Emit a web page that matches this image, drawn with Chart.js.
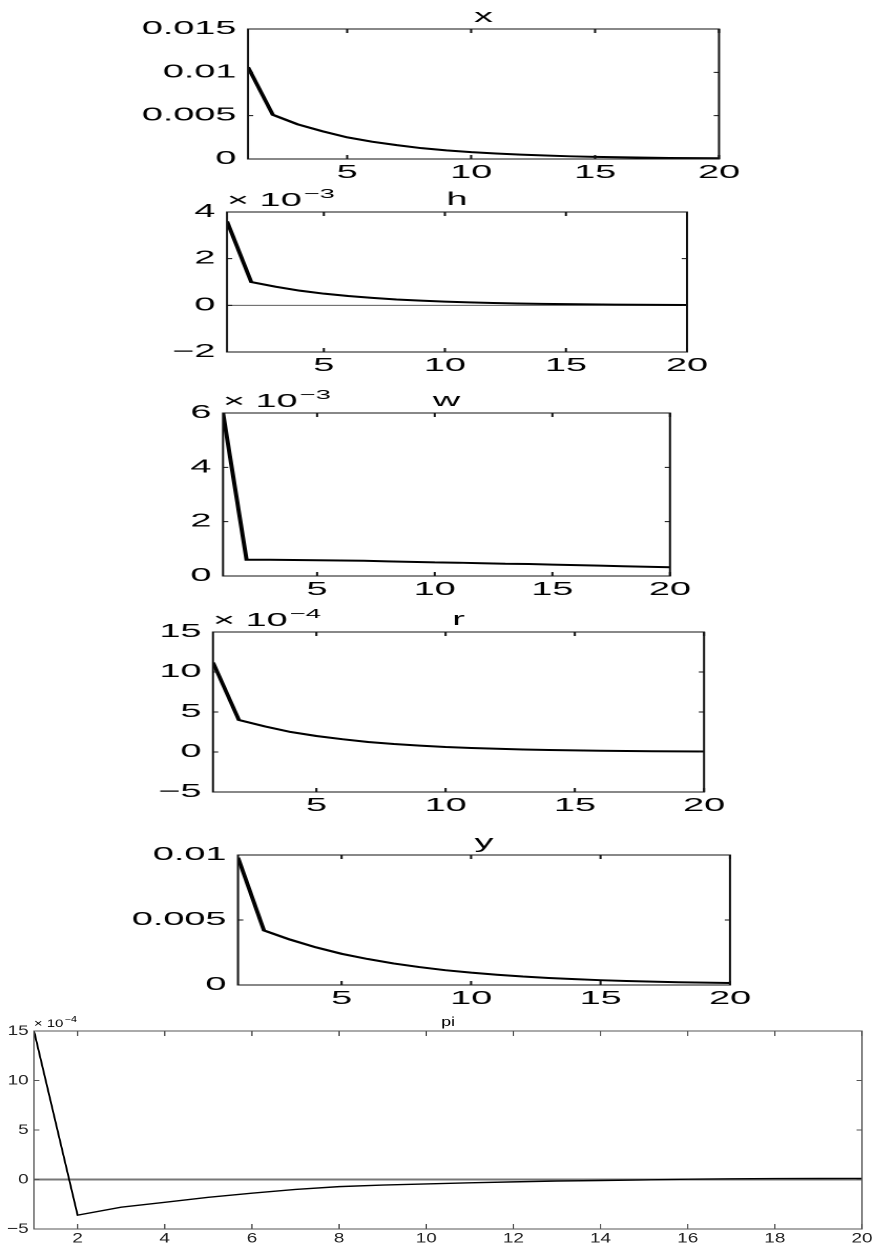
<!DOCTYPE html>
<html>
<head>
<meta charset="utf-8">
<script src="https://cdn.jsdelivr.net/npm/chart.js@4.4.1/dist/chart.umd.min.js"></script>
<style>
  html, body { margin: 0; padding: 0; background: #fff; }
  #page { position: relative; width: 874px; height: 1248px; overflow: hidden; background: #fff; }
  .panel { position: absolute; left: 0; transform-origin: 0 0; }
  .panel canvas { display: block; }
</style>
</head>
<body>
<div id="page"></div>
<script>
// Impulse responses over 20 periods
const periods = [1, 2, 3, 4, 5, 6, 7, 8, 9, 10, 11, 12, 13, 14, 15, 16, 17, 18, 19, 20];

const xSeries = [0.0106, 0.0051, 0.0040, 0.0032, 0.0025, 0.0020, 0.0016, 0.00125, 0.0010, 0.00079,
                 0.00063, 0.0005, 0.0004, 0.00031, 0.00025, 0.0002, 0.00016, 0.00012, 0.0001, 0.00008];
// h, w in units of 1e-3
const hSeries = [3.6, 1.0, 0.8, 0.63, 0.5, 0.4, 0.32, 0.25, 0.2, 0.16,
                 0.125, 0.1, 0.08, 0.063, 0.05, 0.04, 0.032, 0.025, 0.02, 0.016];
const wSeries = [6.0, 0.6, 0.6, 0.59, 0.58, 0.57, 0.56, 0.54, 0.52, 0.5,
                 0.49, 0.47, 0.45, 0.44, 0.42, 0.4, 0.38, 0.36, 0.34, 0.32];
// r, pi in units of 1e-4
const rSeries = [11.2, 4.0, 3.2, 2.5, 2.0, 1.6, 1.25, 1.0, 0.8, 0.63,
                 0.5, 0.4, 0.32, 0.25, 0.2, 0.16, 0.12, 0.1, 0.08, 0.06];
const ySeries = [0.0098, 0.0042, 0.0035, 0.0029, 0.0024, 0.0020, 0.00166, 0.00138, 0.00114, 0.00095,
                 0.00079, 0.00065, 0.00054, 0.00045, 0.00037, 0.00031, 0.00026, 0.00021, 0.00018, 0.00015];
const piSeries = [15, -3.6, -2.8, -2.3, -1.8, -1.38, -1.0, -0.72, -0.56, -0.45,
                  -0.33, -0.24, -0.16, -0.1, -0.04, 0.03, 0.07, 0.09, 0.1, 0.11];

// Tick values and labels
const smallXTicks = [5, 10, 15, 20];
const piXTicks = [2, 4, 6, 8, 10, 12, 14, 16, 18, 20];
const xYTicks = [0, 0.005, 0.01, 0.015];
const xYLabels = ['0', '0.005', '0.01', '0.015'];
const hYTicks = [-2, 0, 2, 4];
const hYLabels = ['\u22122', '0', '2', '4'];
const wYTicks = [0, 2, 4, 6];
const wYLabels = ['0', '2', '4', '6'];
const rYTicks = [-5, 0, 5, 10, 15];
const rYLabels = ['\u22125', '0', '5', '10', '15'];
const yYTicks = [0, 0.005, 0.01];
const yYLabels = ['0', '0.005', '0.01'];
const piYTicks = [-5, 0, 5, 10, 15];
const piYLabels = ['\u22125', '0', '5', '10', '15'];

const titles = ['x', 'h', 'w', 'r', 'y', 'pi'];
const exponents = [null, '\u22123', '\u22123', '\u22124', null, '\u22124'];

const FONT = '"Liberation Sans", Arial, Helvetica, sans-serif';
const page = document.getElementById('page');

// Box frame, inward ticks, title and axis multiplier
const matlabAxes = {
  id: 'matlabAxes',
  afterDraw(chart, args, o) {
    const { ctx, chartArea: a, scales: { x, y } } = chart;
    ctx.save();
    ctx.strokeStyle = o.frameColor;
    ctx.lineWidth = o.frameWidth;
    ctx.beginPath();
    for (const t of x.ticks) {
      const px = x.getPixelForValue(t.value);
      ctx.moveTo(px, a.bottom); ctx.lineTo(px, a.bottom - o.tickY);
      ctx.moveTo(px, a.top); ctx.lineTo(px, a.top + o.tickY);
    }
    for (const t of y.ticks) {
      const py = y.getPixelForValue(t.value);
      ctx.moveTo(a.left, py); ctx.lineTo(a.left + o.tickX, py);
      ctx.moveTo(a.right, py); ctx.lineTo(a.right - o.tickX, py);
    }
    ctx.stroke();
    ctx.strokeRect(a.left, a.top, a.right - a.left, a.bottom - a.top);

    ctx.fillStyle = o.textColor;
    ctx.textBaseline = 'alphabetic';
    ctx.textAlign = 'center';
    ctx.font = `${o.titleSize}px ${FONT}`;
    ctx.fillText(o.title, (a.left + a.right) / 2, a.top - o.titleGap);
    if (o.exp) {
      ctx.textAlign = 'left';
      ctx.font = `${o.multSize}px ${FONT}`;
      const base = '\u00d7 10';
      ctx.fillText(base, a.left, a.top - o.multGap);
      const w = ctx.measureText(base).width;
      ctx.font = `${o.expSize}px ${FONT}`;
      ctx.fillText(o.exp, a.left + w + 1, a.top - o.multGap - o.expRise);
    }
    ctx.restore();
  }
};

function makePanel(p, st) {
  const [L, T, R, B] = p.frame;
  const W = st.width;
  const s = 874 / W;   // horizontal stretch of the panel
  const H = st.padTop + (B - T) + st.padBottom;
  const wrap = document.createElement('div');
  wrap.className = 'panel';
  wrap.style.top = (T - st.padTop) + 'px';
  wrap.style.transform = `scaleX(${s})`;
  const cv = document.createElement('canvas');
  cv.width = W; cv.height = H;
  wrap.appendChild(cv);
  page.appendChild(wrap);

  const datasets = [{
    data: periods.map((t, i) => ({ x: t, y: p.values[i] })),
    borderColor: '#000', borderWidth: st.lineWidth, pointRadius: 0, tension: 0, order: 0
  }];
  if (p.zero) {
    datasets.push({
      data: periods.map(t => ({ x: t, y: 0 })),
      borderColor: st.zeroColor, borderWidth: st.zeroWidth, pointRadius: 0, order: 1
    });
  }
  const tickFont = { family: FONT, size: st.tickSize };
  new Chart(cv, {
    type: 'line',
    data: { datasets },
    options: {
      responsive: false, animation: false, devicePixelRatio: 2,
      layout: { padding: { top: st.padTop, left: 0, right: W - R / s, bottom: 0 } },
      plugins: {
        legend: { display: false }, tooltip: { enabled: false },
        matlabAxes: {
          title: p.title, exp: p.exp, frameColor: st.frameColor, frameWidth: 1,
          tickX: st.tickX, tickY: st.tickY, textColor: '#000',
          titleSize: st.titleSize, titleGap: st.titleGap,
          multSize: st.multSize, expSize: st.expSize, multGap: st.multGap, expRise: st.expRise
        }
      },
      scales: {
        x: {
          type: 'linear', min: 1, max: 20,
          grid: { display: false, drawTicks: false }, border: { display: false },
          afterBuildTicks: sc => { sc.ticks = p.xTicks.map(v => ({ value: v })); },
          afterFit: sc => { sc.height = st.padBottom; },
          ticks: { font: tickFont, color: st.labelColor, padding: st.xPad, maxRotation: 0, autoSkip: false,
                   callback: v => String(v) }
        },
        y: {
          type: 'linear', min: p.yTicks[0], max: p.yTicks[p.yTicks.length - 1],
          grid: { display: false, drawTicks: false }, border: { display: false },
          afterBuildTicks: sc => { sc.ticks = p.yTicks.map(v => ({ value: v })); },
          afterFit: sc => { sc.width = L / s; },
          ticks: { font: tickFont, color: st.labelColor, padding: st.yPad, autoSkip: false,
                   callback: (v, i) => p.yLabels[i] }
        }
      }
    },
    plugins: [matlabAxes]
  });
}

const smallStyle = {
  width: 416, padBottom: 30,
  lineWidth: 2, zeroColor: '#444', zeroWidth: 0.9, frameColor: '#111', labelColor: '#000',
  tickX: 2.5, tickY: 4, tickSize: 18, xPad: 3, yPad: 5.5,
  titleSize: 18, titleGap: 7, multSize: 18, expSize: 13, multGap: 6, expRise: 8
};

const smallPanels = [
  { title: titles[0], exp: exponents[0], values: xSeries, xTicks: smallXTicks, yTicks: xYTicks, yLabels: xYLabels, frame: [248, 29, 719, 159], zero: false, padTop: 29 },
  { title: titles[1], exp: exponents[1], values: hSeries, xTicks: smallXTicks, yTicks: hYTicks, yLabels: hYLabels, frame: [227, 212, 687, 352], zero: true, padTop: 35 },
  { title: titles[2], exp: exponents[2], values: wSeries, xTicks: smallXTicks, yTicks: wYTicks, yLabels: wYLabels, frame: [223, 413, 670, 576], zero: false, padTop: 35 },
  { title: titles[3], exp: exponents[3], values: rSeries, xTicks: smallXTicks, yTicks: rYTicks, yLabels: rYLabels, frame: [213, 632, 704, 792], zero: false, padTop: 35 },
  { title: titles[4], exp: exponents[4], values: ySeries, xTicks: smallXTicks, yTicks: yYTicks, yLabels: yYLabels, frame: [238, 855, 730, 985], zero: false, padTop: 35 }
];
smallPanels.forEach(p => makePanel(p, Object.assign({}, smallStyle, { padTop: p.padTop })));

makePanel(
  { title: titles[5], exp: exponents[5], values: piSeries, xTicks: piXTicks, yTicks: piYTicks, yLabels: piYLabels, frame: [34, 1031, 862, 1229], zero: true },
  { width: 647, padTop: 31, padBottom: 19,
    lineWidth: 1.4, zeroColor: '#777', zeroWidth: 2, frameColor: '#555', labelColor: '#222',
    tickX: 4, tickY: 5, tickSize: 14, xPad: 1, yPad: 4,
    titleSize: 13, titleGap: 5, multSize: 11, expSize: 8, multGap: 4, expRise: 5 }
);
</script>
</body>
</html>
